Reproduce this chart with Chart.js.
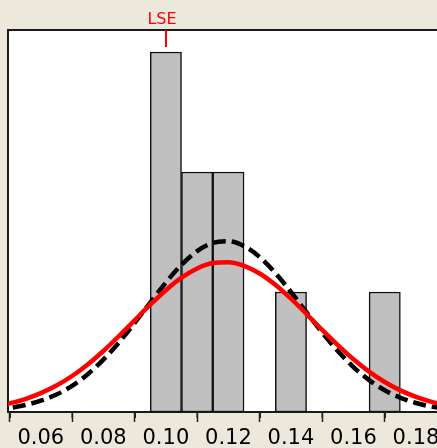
<!DOCTYPE html>
<html>
<head>
<meta charset="utf-8">
<script src="https://cdn.jsdelivr.net/npm/chart.js@4/dist/chart.umd.min.js"></script>
<style>
  html, body { margin: 0; padding: 0; background: #ECE9DC; overflow: hidden; }
  canvas { display: block; }
</style>
</head>
<body>
<canvas id="hist" width="445" height="448"></canvas>
<script>
// Histogram bins (centre of each 0.01-wide bin) and their counts
const binCenters = [0.10, 0.11, 0.12, 0.13, 0.14, 0.15, 0.16, 0.17];
const binCounts  = [3, 2, 2, 0, 1, 0, 0, 1];

// Fitted density curves, scaled to counts, sampled along x
const curveX = [0.045, 0.050, 0.055, 0.060, 0.065, 0.070, 0.075, 0.080, 0.085, 0.090,
                0.095, 0.100, 0.105, 0.110, 0.115, 0.120, 0.125, 0.130, 0.135, 0.140,
                0.145, 0.150, 0.155, 0.160, 0.165, 0.170, 0.175, 0.180, 0.185, 0.190];
const fitSolid = [0.047, 0.072, 0.108, 0.157, 0.220, 0.300, 0.396, 0.508, 0.633, 0.764,
                  0.894, 1.015, 1.119, 1.196, 1.241, 1.248, 1.218, 1.154, 1.060, 0.944,
                  0.816, 0.684, 0.557, 0.439, 0.336, 0.250, 0.180, 0.126, 0.085, 0.056];
const fitDashed = [0.020, 0.034, 0.058, 0.094, 0.146, 0.218, 0.315, 0.436, 0.580, 0.742,
                   0.912, 1.079, 1.227, 1.341, 1.409, 1.423, 1.383, 1.291, 1.159, 1.000,
                   0.830, 0.662, 0.508, 0.374, 0.266, 0.181, 0.119, 0.075, 0.045, 0.026];

// Axis ticks and specification limit
const majorTicks = [0.06, 0.08, 0.10, 0.12, 0.14, 0.16, 0.18];
const minorTicks = [0.05, 0.07, 0.09, 0.11, 0.13, 0.15, 0.17, 0.19];
const specLimits = [{ label: 'LSE', value: 0.10 }];

const FONT = 'DejaVu Sans';

const bars = binCenters
  .map((x, i) => ({ x: x, y: binCounts[i] }))
  .filter(p => p.y > 0);

const framePlugin = {
  id: 'frame',
  beforeDraw(chart) {
    const { ctx, chartArea: a } = chart;
    ctx.save();
    ctx.fillStyle = '#ECE9DC';
    ctx.fillRect(0, 0, chart.width, chart.height);
    ctx.fillStyle = '#FFFFFF';
    ctx.fillRect(a.left, a.top, a.right - a.left, a.bottom - a.top);
    ctx.restore();
  },
  beforeDatasetsDraw(chart) {
    const { ctx, chartArea: a } = chart;
    ctx.save();
    ctx.strokeStyle = '#1a1a1a';
    ctx.lineWidth = 2;
    ctx.strokeRect(a.left, a.top, a.right - a.left, a.bottom - a.top);
    ctx.restore();
  },
  afterDraw(chart) {
    const { ctx, chartArea: a } = chart;
    const xs = chart.scales.x;
    ctx.save();
    // minor tick marks
    ctx.strokeStyle = '#222';
    ctx.lineWidth = 1.5;
    minorTicks.forEach(v => {
      const px = Math.round(xs.getPixelForValue(v)) + 0.25;
      if (px < a.left - 1 || px > chart.width) return;
      ctx.beginPath();
      ctx.moveTo(px, a.bottom);
      ctx.lineTo(px, a.bottom + 6);
      ctx.stroke();
    });
    // specification limit markers
    specLimits.forEach(s => {
      const px = Math.round(xs.getPixelForValue(s.value));
      ctx.strokeStyle = '#FF0000';
      ctx.lineWidth = 2;
      ctx.beginPath();
      ctx.moveTo(px, a.top);
      ctx.lineTo(px, a.top + 17);
      ctx.stroke();
      ctx.fillStyle = '#FF0000';
      ctx.font = '16px "' + FONT + '"';
      ctx.textAlign = 'center';
      ctx.textBaseline = 'alphabetic';
      ctx.fillText(s.label, px - 4, 24);
    });
    ctx.restore();
  }
};

new Chart(document.getElementById('hist'), {
  type: 'bar',
  data: {
    datasets: [
      {
        type: 'line',
        data: curveX.map((x, i) => ({ x: x, y: fitSolid[i] })),
        borderColor: '#FF0000',
        borderWidth: 4.5,
        pointRadius: 0,
        fill: false,
        cubicInterpolationMode: 'monotone',
        order: 0
      },
      {
        type: 'line',
        data: curveX.map((x, i) => ({ x: x, y: fitDashed[i] })),
        borderColor: '#000000',
        borderWidth: 4.5,
        borderDash: [13, 6],
        borderCapStyle: 'butt',
        pointRadius: 0,
        fill: false,
        cubicInterpolationMode: 'monotone',
        order: 1
      },
      {
        type: 'bar',
        data: bars,
        backgroundColor: '#C0C0C0',
        borderColor: '#111111',
        borderWidth: 1.5,
        borderSkipped: false,
        barPercentage: 1,
        categoryPercentage: 1,
        order: 2
      }
    ]
  },
  options: {
    responsive: false,
    animation: false,
    devicePixelRatio: 1,
    layout: { padding: { top: 30, left: 8, right: 4, bottom: 0 } },
    plugins: { legend: { display: false }, tooltip: { enabled: false } },
    scales: {
      x: {
        type: 'linear',
        offset: false,
        min: 0.0495,
        max: 0.1880,
        afterBuildTicks(scale) {
          scale.ticks = majorTicks.map(v => ({ value: v }));
        },
        afterFit(scale) { scale.height = 36; },
        grid: {
          display: true,
          drawOnChartArea: false,
          drawTicks: true,
          tickLength: 10,
          tickColor: '#222',
          tickWidth: 1.5
        },
        border: { display: false },
        ticks: {
          autoSkip: false,
          maxRotation: 0,
          padding: 4,
          color: '#000',
          font: { family: FONT, size: 21 },
          callback: v => v.toFixed(2)
        }
      },
      y: {
        display: false,
        min: 0,
        max: 3.183
      }
    }
  },
  plugins: [framePlugin]
});
</script>
</body>
</html>
